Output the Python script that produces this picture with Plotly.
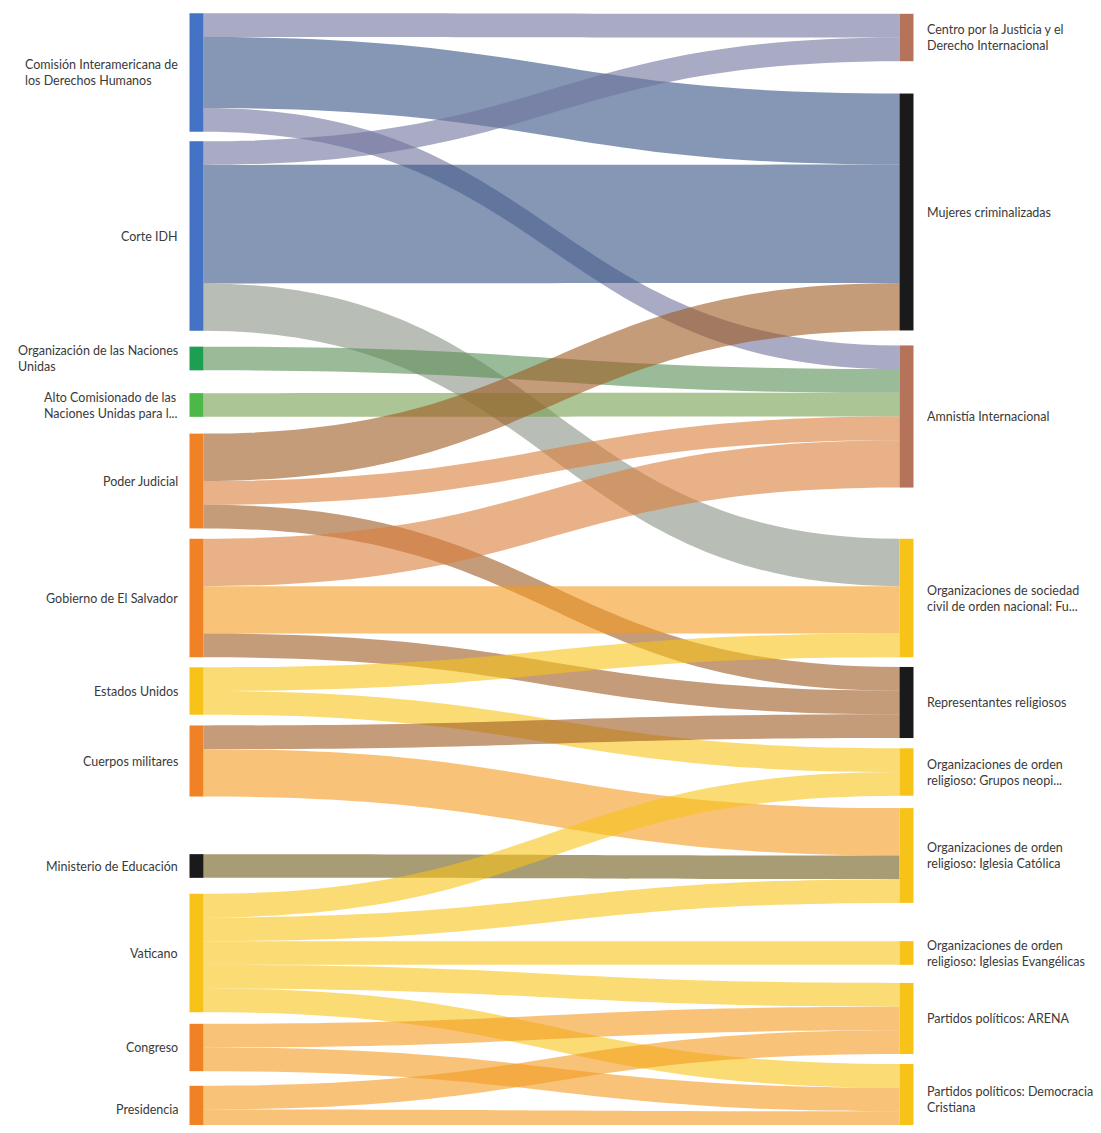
import plotly.graph_objects as go

# ---------------- data ----------------
sources_labels = [
    "Comisión Interamericana de los Derechos Humanos",
    "Corte IDH",
    "Organización de las Naciones Unidas",
    "Alto Comisionado de las Naciones Unidas para l...",
    "Poder Judicial",
    "Gobierno de El Salvador",
    "Estados Unidos",
    "Cuerpos militares",
    "Ministerio de Educación",
    "Vaticano",
    "Congreso",
    "Presidencia",
]
target_labels = [
    "Centro por la Justicia y el Derecho Internacional",
    "Mujeres criminalizadas",
    "Amnistía Internacional",
    "Organizaciones de sociedad civil de orden nacional: Fu...",
    "Representantes religiosos",
    "Organizaciones de orden religioso: Grupos neopi...",
    "Organizaciones de orden religioso: Iglesia Católica",
    "Organizaciones de orden religioso: Iglesias Evangélicas",
    "Partidos políticos: ARENA",
    "Partidos políticos: Democracia Cristiana",
]

# display text (wrapped) for labels
source_text = [
    "Comisión Interamericana de<br>los Derechos Humanos",
    "Corte IDH",
    "Organización de las Naciones<br>Unidas",
    "Alto Comisionado de las<br>Naciones Unidas para l...",
    "Poder Judicial",
    "Gobierno de El Salvador",
    "Estados Unidos",
    "Cuerpos militares",
    "Ministerio de Educación",
    "Vaticano",
    "Congreso",
    "Presidencia",
]
target_text = [
    "Centro por la Justicia y el<br>Derecho Internacional",
    "Mujeres criminalizadas",
    "Amnistía Internacional",
    "Organizaciones de sociedad<br>civil de orden nacional: Fu...",
    "Representantes religiosos",
    "Organizaciones de orden<br>religioso: Grupos neopi...",
    "Organizaciones de orden<br>religioso: Iglesia Católica",
    "Organizaciones de orden<br>religioso: Iglesias Evangélicas",
    "Partidos políticos: ARENA",
    "Partidos políticos: Democracia<br>Cristiana",
]

link_source = ["Comisión Interamericana de los Derechos Humanos"] * 3 + ["Corte IDH"] * 3 + [
    "Organización de las Naciones Unidas",
    "Alto Comisionado de las Naciones Unidas para l...",
] + ["Poder Judicial"] * 3 + ["Gobierno de El Salvador"] * 3 + ["Estados Unidos"] * 2 + [
    "Cuerpos militares"] * 2 + ["Ministerio de Educación"] + ["Vaticano"] * 5 + ["Congreso"] * 2 + ["Presidencia"] * 2

link_target = [
    "Centro por la Justicia y el Derecho Internacional", "Mujeres criminalizadas", "Amnistía Internacional",
    "Centro por la Justicia y el Derecho Internacional", "Mujeres criminalizadas",
    "Organizaciones de sociedad civil de orden nacional: Fu...",
    "Amnistía Internacional",
    "Amnistía Internacional",
    "Mujeres criminalizadas", "Amnistía Internacional", "Representantes religiosos",
    "Amnistía Internacional", "Organizaciones de sociedad civil de orden nacional: Fu...", "Representantes religiosos",
    "Organizaciones de sociedad civil de orden nacional: Fu...", "Organizaciones de orden religioso: Grupos neopi...",
    "Representantes religiosos", "Organizaciones de orden religioso: Iglesia Católica",
    "Organizaciones de orden religioso: Iglesia Católica",
    "Organizaciones de orden religioso: Grupos neopi...", "Organizaciones de orden religioso: Iglesia Católica",
    "Organizaciones de orden religioso: Iglesias Evangélicas", "Partidos políticos: ARENA",
    "Partidos políticos: Democracia Cristiana",
    "Partidos políticos: ARENA", "Partidos políticos: Democracia Cristiana",
    "Partidos políticos: ARENA", "Partidos políticos: Democracia Cristiana",
]

link_value = [1, 3, 1,
              1, 5, 2,
              1,
              1,
              2, 1, 1,
              2, 2, 1,
              1, 1,
              1, 2,
              1,
              1, 1, 1, 1, 1,
              1, 1,
              1, 1]

# ---------------- styles / layout ----------------
BLUE = (68, 114, 196)
DGREEN = (30, 158, 80)
LGREEN = (76, 184, 72)
ORANGE = (240, 130, 37)
YELLOW = (247, 195, 24)
BLACK = (26, 26, 26)
BROWN = (181, 116, 90)

source_colors = [BLUE, BLUE, DGREEN, LGREEN, ORANGE, ORANGE, YELLOW, ORANGE, BLACK, YELLOW, ORANGE, ORANGE]
target_colors = [BROWN, BLACK, BROWN, YELLOW, BLACK, YELLOW, YELLOW, YELLOW, YELLOW, YELLOW]

OFF = 8  # page body margin in px
W, H = 1101 - OFF, 1133 - 2 * OFF

# node centre positions (pixels in page) for a fixed arrangement
source_y_px = [72.5, 236, 358.5, 405, 481, 598, 691, 761, 866, 953, 1047.5, 1109.5]
target_y_px = [37.5, 212, 416.5, 598, 702.5, 772, 855.5, 953, 1018.5, 1099.5]
source_y = [(v - OFF) / H for v in source_y_px]
target_y = [(v - OFF) / H for v in target_y_px]
LEFT_X = (196.5 - OFF) / W
RIGHT_X = (906.5 - OFF) / W
NODE_PAD = (H - 924) / 11

all_labels = sources_labels + target_labels
idx = {l: i for i, l in enumerate(all_labels)}
all_colors = source_colors + target_colors


def rgb(c, a=1.0):
    return f"rgba({c[0]},{c[1]},{c[2]},{a})"


def blend(c1, c2, t=0.5):
    return tuple(int(round(c1[k] * (1 - t) + c2[k] * t)) for k in range(3))


s_idx = [idx[s] for s in link_source]
t_idx = [idx[t] for t in link_target]
link_colors = [rgb(blend(all_colors[s], all_colors[t], 0.38), 0.6) for s, t in zip(s_idx, t_idx)]

fig = go.Figure(go.Sankey(
    arrangement="fixed",
    domain=dict(x=[0, 1], y=[0, 1]),
    node=dict(
        label=all_labels,
        color=[rgb(c) for c in all_colors],
        pad=NODE_PAD,
        thickness=14,
        line=dict(width=0),
        x=[LEFT_X] * len(sources_labels) + [RIGHT_X] * len(target_labels),
        y=source_y + target_y,
    ),
    link=dict(source=s_idx, target=t_idx, value=link_value, color=link_colors),
    textfont=dict(color="rgba(0,0,0,0)", size=1),
))

FONT = dict(family="Lato", size=12.5, color="#3a3a3a")
annotations = []
for txt, y in zip(source_text, source_y):
    annotations.append(dict(
        x=(180 - OFF) / W, y=1 - y, xref="paper", yref="paper", text=txt, showarrow=False,
        xanchor="right", yanchor="middle", align="left", font=FONT,
    ))
for txt, y in zip(target_text, target_y):
    annotations.append(dict(
        x=(925 - OFF) / W, y=1 - y, xref="paper", yref="paper", text=txt, showarrow=False,
        xanchor="left", yanchor="middle", align="left", font=FONT,
    ))

fig.update_layout(
    width=W, height=H,
    margin=dict(l=0, r=0, t=0, b=0),
    paper_bgcolor="white",
    annotations=annotations,
    font=dict(family="Lato"),
)

fig.write_html("out.html")
